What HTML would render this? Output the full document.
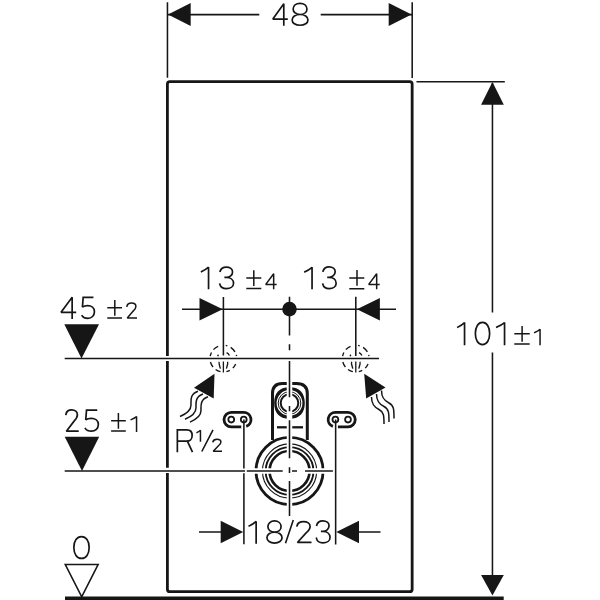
<!DOCTYPE html>
<html><head><meta charset="utf-8"><style>
html,body{margin:0;padding:0;background:#fff;font-family:"Liberation Sans",sans-serif;}
svg{display:block;}
.t path{fill:none;stroke:#161616;vector-effect:non-scaling-stroke;stroke-linecap:square;stroke-linejoin:miter;stroke-miterlimit:1.5;}
</style></head><body>
<svg width="600" height="600" viewBox="0 0 600 600" fill="none" stroke="#161616" stroke-width="1.55">
<path d="M167.45,2.3V77.8M412.2,2.3V77.9M168,14.6H259.3M320.7,14.6H411.5" />
<path d="M168,14.5L190.7,3.1L190.7,25.9Z" fill="#161616" stroke="none"/>
<path d="M411.5,14.5L388.7,3.1L388.7,25.9Z" fill="#161616" stroke="none"/>
<rect x="167.4" y="81.6" width="244.75" height="510.05" rx="2.5" stroke-width="2.8"/>
<path d="M160,358.5H175M160,470.4H175" stroke="#fff" stroke-width="5.1"/>
<path d="M416.5,81.7H504.8M492.45,83V312.5M492.45,352.5V590"/>
<path d="M492.45,82L481.05,104.8L503.85,104.8Z" fill="#161616" stroke="none"/>
<path d="M492.45,595.5L481.1,575L503.8,575Z" fill="#161616" stroke="none"/>
<rect x="65" y="596.5" width="438.7" height="6" fill="#161616" stroke="none"/>
<path d="M65.3,564.5H98.1L81.7,596.8Z" stroke-width="1.6" stroke-linejoin="miter"/>
<path d="M81.5,358.5L64.3,324.2L99,324.2Z" fill="#161616" stroke="none"/>
<path d="M64.7,358.5H379"/>
<path d="M82,471L64.7,436.7L99.2,436.7Z" fill="#161616" stroke="none"/>
<path d="M182,309.3H396M223.4,297V355.5M355.8,296.7V356"/>
<path d="M222.7,309.3L199.5,298.1L199.5,320.4Z" fill="#161616" stroke="none"/>
<path d="M356.9,309.3L379.9,298.1L379.9,320.4Z" fill="#161616" stroke="none"/>
<circle cx="289.5" cy="309.1" r="7.3" fill="#161616" stroke="none"/>
<g><path d="M272.5,440V393.5Q272.5,383.5 282.5,383.5H296.5Q307.3,383.5 307.3,393.5V440" stroke-width="3"/><path d="M274.2,403C274.2,393.5 279,387.3 289.5,387.3C300,387.3 304.8,393.5 304.8,403C304.8,412.5 300,418.8 289.5,418.8C279,418.8 274.2,412.5 274.2,403ZM289.5,390.1A12.9,12.9 0 1 0 289.5,415.9A12.9,12.9 0 1 0 289.5,390.1Z" fill="#161616" fill-rule="evenodd" stroke="none"/><circle cx="289.5" cy="403" r="11.3" stroke-width="1.0"/><circle cx="289.5" cy="403" r="8.8" stroke-width="2"/><path d="M277,427.3H303" stroke-width="2.3"/><circle cx="289.55" cy="471" r="33.55" stroke-width="2.8"/><circle cx="289.55" cy="471" r="27.1" stroke-width="1.1"/><circle cx="289.55" cy="471" r="23.9" stroke-width="1.9"/><circle cx="289.55" cy="471" r="20.0" stroke-width="2.7"/><path d="M246.25,426.4A7.25,7.25 0 0 0 243.75,412.35H231.25A7.25,7.25 0 0 0 231.25,426.85H241.25" stroke-width="2.8"/><circle cx="231.25" cy="419.6" r="2.9" stroke-width="1.8"/><circle cx="243.75" cy="419.6" r="2.9" stroke-width="1.8"/><path d="M337.9,426.85H348A7.25,7.25 0 0 0 348,412.35H335.4A7.25,7.25 0 0 0 332.9,426.4" stroke-width="2.8"/><circle cx="335.4" cy="419.6" r="2.9" stroke-width="1.8"/><circle cx="348" cy="419.6" r="2.9" stroke-width="1.8"/></g>
<path d="M289.5,375V520M250,470.9H340M238,470.9H250" stroke="#fff" stroke-width="5.5"/>
<path d="M289.5,383.5V383.5" stroke="#fff" stroke-width="5"/>
<path d="M289.5,296.7V335.5M289.5,344.2V350.2M289.5,361V397.3M289.5,406V411.3M289.5,420.3V458.3M289.5,467.3V473M289.5,481V516" />
<path d="M64.7,471H245M246.75,471H282.7M292,471H297M305,471H332.9"/>
<path d="M243.9,419.6V468.5M243.9,473.25V544.3M335.65,419.6V544.5"/>
<path d="M199,532.05H221M359,532.05H380.5"/>
<path d="M243.2,532L220.7,520.8L220.7,543.3Z" fill="#161616" stroke="none"/>
<path d="M336.3,532L359,520.8L359,543.3Z" fill="#161616" stroke="none"/>
<path d="M235.66,364.01A13.4,13.4 0 0 1 232.81,368.14M229.81,370.36A13.4,13.4 0 0 1 226.41,371.66M220.45,371.67A13.4,13.4 0 0 1 215.62,369.51M212.99,367.03A13.4,13.4 0 0 1 210.43,361.96M210.25,356.04A13.4,13.4 0 0 1 211.46,352.52M213.44,349.63A13.4,13.4 0 0 1 218.16,346.27M225.73,345.40A13.4,13.4 0 0 1 227.32,345.79M230.70,347.36A13.4,13.4 0 0 1 235.00,351.90M236.28,354.91A13.4,13.4 0 0 1 236.55,356.04M217.69,356.18A6.2,6.2 0 0 1 218.51,354.78M226.59,352.60A6.8,6.8 0 0 1 229.46,355.51" stroke-width="1.35"/><path d="M219.20000000000002,361.70000000000005C218.6,363.6 219.6,365.6 220.4,368.6M227.6,361.70000000000005C228.20000000000002,363.6 227.20000000000002,365.6 226.4,368.6M223.4,361.40000000000003V372.6" stroke-width="1.3"/>
<path d="M368.06,364.01A13.4,13.4 0 0 1 365.21,368.14M362.21,370.36A13.4,13.4 0 0 1 358.81,371.66M352.85,371.67A13.4,13.4 0 0 1 348.02,369.51M345.39,367.03A13.4,13.4 0 0 1 342.83,361.96M342.65,356.04A13.4,13.4 0 0 1 343.86,352.52M345.84,349.63A13.4,13.4 0 0 1 350.56,346.27M358.13,345.40A13.4,13.4 0 0 1 359.72,345.79M363.10,347.36A13.4,13.4 0 0 1 367.40,351.90M368.68,354.91A13.4,13.4 0 0 1 368.95,356.04M350.09,356.18A6.2,6.2 0 0 1 350.91,354.78M358.99,352.60A6.8,6.8 0 0 1 361.86,355.51" stroke-width="1.35"/><path d="M351.6,361.70000000000005C351.0,363.6 352.0,365.6 352.8,368.6M360.0,361.70000000000005C360.6,363.6 359.6,365.6 358.8,368.6M355.8,361.40000000000003V372.6" stroke-width="1.3"/>
<path d="M214.5,373.8L194,387.8L213.7,398.5Z" fill="#161616" stroke="none"/>
<path d="M364.2,373.8L385.5,387.5L366.2,398.5Z" fill="#161616" stroke="none"/>
<path d="M198,391.2C190,394 191,400 191,405C191,411 186,414 180,416.5 M203,394.0C195,396.8 196,402.8 196,407.8C196,413.8 191,416.8 185,419.3 M208,396.8C200,399.6 201,405.6 201,410.6C201,416.6 196,419.6 190,422.1 M371.5,397C371.5,404 374.0,407 379.0,409.5C384,412 384,416 384,424 M376.5,394C376.5,401 379.0,404 384.0,406.5C389,409 389,413 389,422 M381.5,390.5C381.5,397.5 384.0,400.5 389.0,403.0C394,405.5 394,409.5 394,418.5" stroke-width="1.5"/>
<g class="t"><path transform="matrix(0.2189,0,0,0.2110,272.85,3.85)" stroke-width="1.7" d="M50,100V0L0,72H64.4"/><path transform="matrix(0.2290,0,0,0.2190,292.15,3.35)" stroke-width="1.7" d="M34.5,0.0C52.016,0.0 64.7,10.71 64.7,25.5C64.7,40.29 52.016,51.0 34.5,51.0C16.984,51.0 4.300000000000001,40.29 4.300000000000001,25.5C4.300000000000001,10.71 16.984,0.0 34.5,0.0ZM34.5,51.0C54.51,51.0 69.0,61.29 69.0,75.5C69.0,89.71 54.51,100.0 34.5,100.0C14.490000000000002,100.0 0.0,89.71 0.0,75.5C0.0,61.29 14.490000000000002,51.0 34.5,51.0Z"/><path transform="matrix(0.2030,0,0,0.2190,457.85,322.55)" stroke-width="1.7" d="M0,21C11,16 24,8 33,0V100"/><path transform="matrix(0.2234,0,0,0.2230,475.35,322.35)" stroke-width="1.7" d="M32,0C51.2,0 64,20.0 64,50C64,80.0 51.2,100 32,100C12.8,100 0,80.0 0,50C0,20.0 12.8,0 32,0Z"/><path transform="matrix(0.2333,0,0,0.2190,496.85,322.55)" stroke-width="1.7" d="M0,21C11,16 24,8 33,0V100"/><path transform="matrix(0.1606,0,0,0.1520,534.75,329.35)" stroke-width="1.5" d="M0,21C11,16 24,8 33,0V100"/><path transform="matrix(0.2220,0,0,0.2080,61.05,297.35)" stroke-width="1.7" d="M50,100V0L0,72H64.4"/><path transform="matrix(0.2050,0,0,0.2090,78.66,297.45)" stroke-width="1.7" d="M68,0H22L18.3,46C25,41 34,39 44,39C62,39 77,50 77,68C77,87 63,100 45,100C32,100 21,95 17,88"/><path transform="matrix(0.1632,0,0,0.1490,124.67,303.05)" stroke-width="1.5" d="M14,20C16,8 27,0 41.4,0C57,0 68.8,9 68.8,23C68.8,36 62,44 52,54L16,100H71"/><path transform="matrix(0.2091,0,0,0.2130,201.65,267.15)" stroke-width="1.7" d="M0,21C11,16 24,8 33,0V100"/><path transform="matrix(0.2228,0,0,0.2150,214.95,267.15)" stroke-width="1.7" d="M23,19C26,7 38,0 51,0C67,0 79,9 79,22C79,37 66,47.7 51,47.7H46M51,47.7C70,47.7 83.5,59 83.5,75C83.5,90 70,100 51,100C36,100 25,92 22,79.5"/><path transform="matrix(0.1584,0,0,0.1480,265.75,273.75)" stroke-width="1.5" d="M50,100V0L0,72H64.4"/><path transform="matrix(0.2152,0,0,0.2110,304.95,267.35)" stroke-width="1.7" d="M0,21C11,16 24,8 33,0V100"/><path transform="matrix(0.2163,0,0,0.2170,318.09,266.95)" stroke-width="1.7" d="M23,19C26,7 38,0 51,0C67,0 79,9 79,22C79,37 66,47.7 51,47.7H46M51,47.7C70,47.7 83.5,59 83.5,75C83.5,90 70,100 51,100C36,100 25,92 22,79.5"/><path transform="matrix(0.1584,0,0,0.1480,368.75,273.75)" stroke-width="1.5" d="M50,100V0L0,72H64.4"/><path transform="matrix(0.2088,0,0,0.2120,63.03,409.95)" stroke-width="1.7" d="M14,20C16,8 27,0 41.4,0C57,0 68.8,9 68.8,23C68.8,36 62,44 52,54L16,100H71"/><path transform="matrix(0.2150,0,0,0.2100,81.79,410.15)" stroke-width="1.7" d="M68,0H22L18.3,46C25,41 34,39 44,39C62,39 77,50 77,68C77,87 63,100 45,100C32,100 21,95 17,88"/><path transform="matrix(0.1606,0,0,0.1470,131.25,416.55)" stroke-width="1.5" d="M0,21C11,16 24,8 33,0V100"/><path transform="matrix(0.2176,0,0,0.2160,177.35,429.85)" stroke-width="1.7" d="M0,100V0H44C58,0 68,10 68,26C68,42 58,52.5 44,52.5H0M46,52.5L68,100"/><path transform="matrix(0.1000,0,0,0.1070,197.15,430.25)" stroke-width="1.5" d="M0,21C11,16 24,8 33,0V100"/><path transform="matrix(0.1456,0,0,0.1200,210.91,439.25)" stroke-width="1.5" d="M14,20C16,8 27,0 41.4,0C57,0 68.8,9 68.8,23C68.8,36 62,44 52,54L16,100H71"/><path transform="matrix(0.2091,0,0,0.2150,249.25,521.45)" stroke-width="1.7" d="M0,21C11,16 24,8 33,0V100"/><path transform="matrix(0.2188,0,0,0.2210,266.95,520.95)" stroke-width="1.7" d="M34.5,0.0C52.016,0.0 64.7,10.71 64.7,25.5C64.7,40.29 52.016,51.0 34.5,51.0C16.984,51.0 4.300000000000001,40.29 4.300000000000001,25.5C4.300000000000001,10.71 16.984,0.0 34.5,0.0ZM34.5,51.0C54.51,51.0 69.0,61.29 69.0,75.5C69.0,89.71 54.51,100.0 34.5,100.0C14.490000000000002,100.0 0.0,89.71 0.0,75.5C0.0,61.29 14.490000000000002,51.0 34.5,51.0Z"/><path transform="matrix(0.2404,0,0,0.2080,293.59,521.65)" stroke-width="1.7" d="M14,20C16,8 27,0 41.4,0C57,0 68.8,9 68.8,23C68.8,36 62,44 52,54L16,100H71"/><path transform="matrix(0.2211,0,0,0.2190,311.58,520.95)" stroke-width="1.7" d="M23,19C26,7 38,0 51,0C67,0 79,9 79,22C79,37 66,47.7 51,47.7H46M51,47.7C70,47.7 83.5,59 83.5,75C83.5,90 70,100 51,100C36,100 25,92 22,79.5"/><path transform="matrix(0.2391,0,0,0.2190,73.85,536.55)" stroke-width="1.7" d="M32,0C51.2,0 64,20.0 64,50C64,80.0 51.2,100 32,100C12.8,100 0,80.0 0,50C0,20.0 12.8,0 32,0Z"/></g>
<path d="M201.8,451.5L213,429.8M285.5,543.2L293.3,519.9" stroke-width="1.6"/>
<path d="M246.3,278H261.3M253.8,270.3V286M246.3,288.5H261.3" stroke-width="1.5"/>
<path d="M349.3,278.1H364.3M357,270V285.7M349.3,288.7H364.3" stroke-width="1.5"/>
<path d="M107.3,307.7H122M114.8,300V315.7M107.3,318H122" stroke-width="1.5"/>
<path d="M111.1,420.8H125.8M118.4,413.1V428.7M111.1,431.1H125.8" stroke-width="1.5"/>
<path d="M514.3,333.7H529.7M522.1,326V341.7M514.3,343.9H529.7" stroke-width="1.5"/>
</svg>
</body></html>
